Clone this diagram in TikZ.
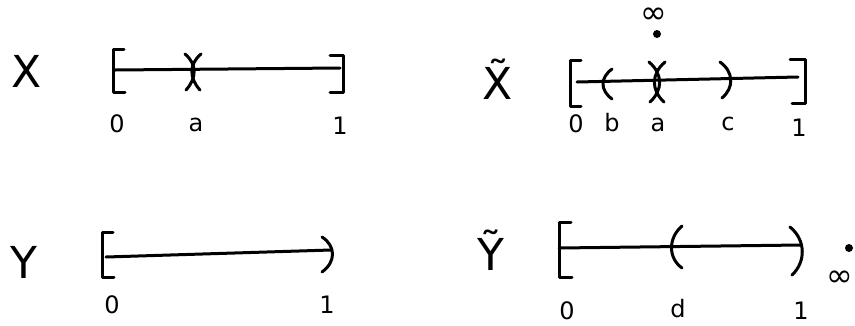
\documentclass[tikz,border=0pt]{standalone}
\usepackage{fontspec}
\setmainfont{DejaVu Sans}
\usepackage{tikz}
\usetikzlibrary{calc}

\begin{document}
\begin{tikzpicture}[x=1pt,y=-1pt,
    pen/.style={line width=3pt,line cap=round,line join=round},
    spacename/.style={font=\fontsize{44}{46}\selectfont},
    ticklbl/.style={font=\fontsize{24}{26}\selectfont},
    infsym/.style={inner sep=0pt,font=\fontsize{32}{34}\selectfont}]
  \useasboundingbox (0,0) rectangle (855,325);

  % space X
  \node[spacename] (X) at (27,71) {X};
  \coordinate (xl) at (115,70);
  \coordinate (xr) at (340,68);
  \draw[pen] (xl) -- (xr);
  \draw[pen] (124,49) -- (113,49) -- (113,92) -- (125,92);
  \draw[pen] (330,55) -- (343,55) -- (343,92) -- (330,92);
  \draw[pen] (185,54) .. controls (197,64) and (197,78) .. (186,90);
  \draw[pen] (201,54) .. controls (189,64) and (189,78) .. (200,90);
  \node[ticklbl] (x0) at (117,124) {0};
  \node[ticklbl] (xa) at (196,125) {a};
  \node[ticklbl] (x1) at (340,126) {1};

  % space X tilde
  \node[spacename] (Xt) at (498,79) {\~{X}};
  \coordinate (tl) at (577,82);
  \coordinate (tr) at (798,77);
  \draw[pen] (tl) -- (tr);
  \draw[pen] (581,60) -- (570,60) -- (570,106) -- (581,106);
  \draw[pen] (790,59) -- (805,59) -- (805,103) -- (792,103);
  \draw[pen] (612,69) .. controls (600,78) and (600,90) .. (612,99);
  \draw[pen] (649,62) .. controls (663,74) and (663,90) .. (650,102);
  \draw[pen] (665,62) .. controls (651,74) and (651,90) .. (664,102);
  \draw[pen] (720,62) .. controls (734,72) and (734,88) .. (722,98);
  \fill (657,34) circle (4);
  \node[infsym] (tinf) at (654,16) {∞};
  \node[ticklbl] (t0) at (576,124) {0};
  \node[ticklbl] (tb) at (612,123) {b};
  \node[ticklbl] (ta) at (658,125) {a};
  \node[ticklbl] (tc) at (728,124) {c};
  \node[ticklbl] (t1) at (799,128) {1};

  % space Y
  \node[spacename] (Y) at (24,262) {Y};
  \coordinate (yl) at (106,257);
  \coordinate (yr) at (331,250);
  \draw[pen] (yl) -- (yr);
  \draw[pen] (113,232) -- (102,232) -- (102,277) -- (114,277);
  \draw[pen] (322,237) .. controls (336,246) and (336,262) .. (322,272);
  \node[ticklbl] (y0) at (112,305) {0};
  \node[ticklbl] (y1) at (327,305) {1};

  % space Y tilde
  \node[spacename] (Yt) at (491,250) {\~{Y}};
  \coordinate (sl) at (559,248);
  \coordinate (sr) at (801,245);
  \draw[pen] (sl) -- (sr);
  \draw[pen] (571,222) -- (559,222) -- (559,277) -- (572,277);
  \draw[pen] (682,226) .. controls (668,238) and (668,258) .. (682,268);
  \draw[pen] (790,227) .. controls (806,240) and (806,262) .. (792,275);
  \fill (849,248) circle (4);
  \node[infsym] (sinf) at (840,279) {∞};
  \node[ticklbl] (s0) at (567,311) {0};
  \node[ticklbl] (sd) at (678,309) {d};
  \node[ticklbl] (s1) at (801,311) {1};
\end{tikzpicture}
\end{document}
